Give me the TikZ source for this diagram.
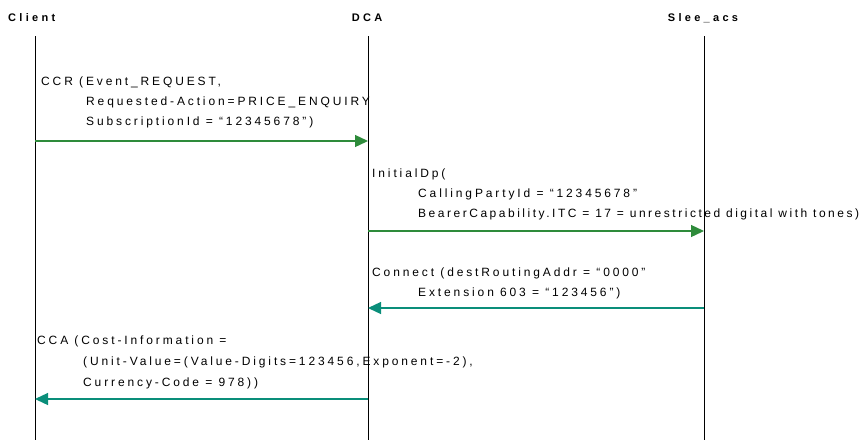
\documentclass[tikz,border=0pt]{standalone}
\usepackage{fontspec}
\setmainfont{Liberation Sans}
\newfontfamily\msgfont[LetterSpace=24]{Liberation Sans}
\newfontfamily\msgfontn[LetterSpace=21]{Liberation Sans}
\newfontfamily\ttlfont[LetterSpace=30]{Liberation Sans}
\usetikzlibrary{arrows.meta}
\definecolor{arrgreen}{RGB}{46,139,59}
\definecolor{arrteal}{RGB}{10,142,122}
\tikzset{
  msg/.style={anchor=base west, inner sep=0pt, font=\msgfont\fontsize{12}{14}\selectfont},
  msgn/.style={anchor=base west, inner sep=0pt, font=\msgfontn\fontsize{12}{14}\selectfont},
  ttl/.style={anchor=base, inner sep=0pt, font=\ttlfont\bfseries\fontsize{11}{13}\selectfont},
  life/.style={draw=black, line width=0.8pt},
  garr/.style={draw=arrgreen, line width=1.3pt, -{Triangle[length=13pt,width=12pt]}},
  tarr/.style={draw=arrteal, line width=1.3pt, -{Triangle[length=13pt,width=12pt]}},
}
\begin{document}
\begin{tikzpicture}[x=1pt,y=-1pt]
\useasboundingbox (0,0) rectangle (863,440);
% titles
\node[ttl, anchor=base west] (tclient) at (8,21) {Client};
\node[ttl] (tdca) at (367,21) {DCA};
\node[ttl] (tslee) at (703,21) {Slee\_acs};
% lifelines
\coordinate (ctop) at (35,36); \coordinate (cbot) at (35,440);
\coordinate (dtop) at (368,36); \coordinate (dbot) at (368,440);
\coordinate (stop) at (704,36); \coordinate (sbot) at (704,440);
\draw[life] (ctop) -- (cbot);
\draw[life] (dtop) -- (dbot);
\draw[life] (stop) -- (sbot);
% CCR
\node[msg] (ccr1) at (41,85) {CCR (Event\_REQUEST,};
\node[msg] (ccr2) at (86,105) {Requested-Action=PRICE\_ENQUIRY};
\node[msg] (ccr3) at (86,125) {SubscriptionId = “12345678”)};
\coordinate (ccrS) at (35,141); \coordinate (ccrE) at (368,141);
\draw[garr] (ccrS) -- (ccrE);
% InitialDP
\node[msg] (idp1) at (372,177) {InitialDp(};
\node[msg] (idp2) at (418,197) {CallingPartyId = “12345678”};
\node[msgn] (idp3) at (418,217) {BearerCapability.ITC = 17 = unrestricted digital with tones)};
\coordinate (idpS) at (368,231); \coordinate (idpE) at (704,231);
\draw[garr] (idpS) -- (idpE);
% Connect
\node[msg] (con1) at (372,276) {Connect (destRoutingAddr = “0000”};
\node[msg] (con2) at (418,296) {Extension 603 = “123456”)};
\coordinate (conS) at (704,308); \coordinate (conE) at (368,308);
\draw[tarr] (conS) -- (conE);
% CCA
\node[msg] (cca1) at (37,344) {CCA (Cost-Information =};
\node[msg] (cca2) at (83,365) {(Unit-Value=(Value-Digits=123456,Exponent=-2),};
\node[msg] (cca3) at (83,386) {Currency-Code = 978))};
\coordinate (ccaS) at (368,399); \coordinate (ccaE) at (35,399);
\draw[tarr] (ccaS) -- (ccaE);
\end{tikzpicture}
\end{document}
